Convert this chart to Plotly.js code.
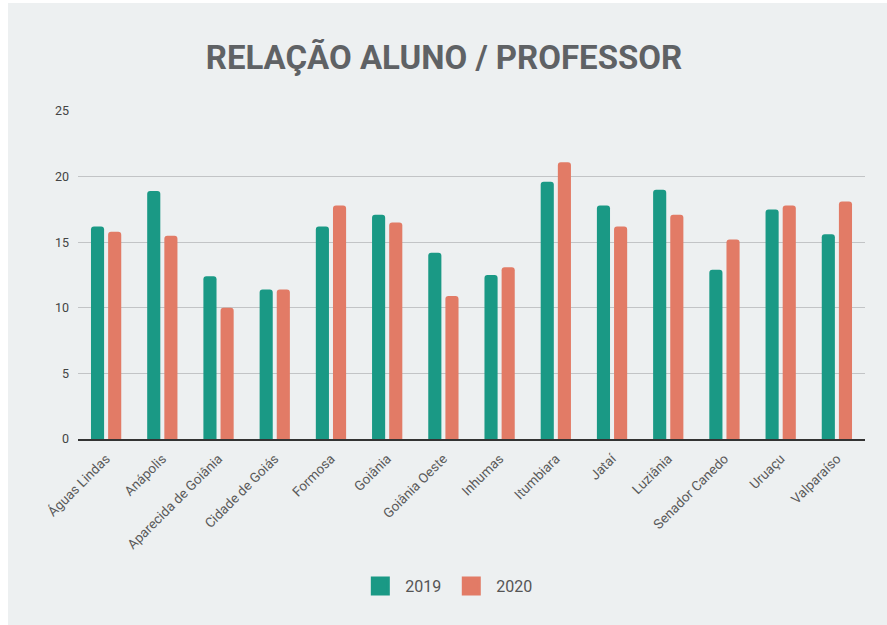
<!DOCTYPE html>
<html>
<head>
<meta charset="utf-8">
<script src="https://cdn.plot.ly/plotly-3.0.1.min.js"></script>
<style>
html, body { margin: 0; padding: 0; background: #ffffff; }
#chart { position: absolute; left: 8px; top: 3px; width: 879px; height: 622px; }
</style>
</head>
<body>
<div id="chart"></div>
<script>
const categories = ["Águas Lindas", "Anápolis", "Aparecida de Goiânia", "Cidade de Goiás", "Formosa", "Goiânia", "Goiânia Oeste", "Inhumas", "Itumbiara", "Jataí", "Luziânia", "Senador Canedo", "Uruaçu", "Valparaíso"];
const values2019 = [16.2, 18.9, 12.4, 11.4, 16.2, 17.1, 14.2, 12.5, 19.6, 17.8, 19.0, 12.9, 17.5, 15.6];
const values2020 = [15.8, 15.5, 10.0, 11.4, 17.8, 16.5, 10.9, 13.1, 21.1, 16.2, 17.1, 15.2, 17.8, 18.1];
const seriesNames = ["2019", "2020"];
const yTicks = [0, 5, 10, 15, 20, 25];
const titleText = "RELAÇÃO ALUNO / PROFESSOR";

const teal = "#1a9985";
const salmon = "#e27b66";

const data = [
  { type: "bar", name: seriesNames[0], x: categories, y: values2019, showlegend: false,
    marker: { color: teal, cornerradius: 3 } },
  { type: "bar", name: seriesNames[1], x: categories, y: values2020, showlegend: false,
    marker: { color: salmon, cornerradius: 3 } },
  // legend entries (no data points)
  { type: "scatter", mode: "markers", name: seriesNames[0], x: [null], y: [null],
    marker: { symbol: "square", size: 16, color: teal, line: { color: teal, width: 3 } } },
  { type: "scatter", mode: "markers", name: seriesNames[1], x: [null], y: [null],
    marker: { symbol: "square", size: 16, color: salmon, line: { color: salmon, width: 3 } } }
];

const layout = {
  width: 879, height: 622,
  paper_bgcolor: "#edf0f1",
  plot_bgcolor: "#edf0f1",
  margin: { l: 70, r: 22, t: 108, b: 186 },
  font: { family: "Roboto, sans-serif", color: "#555555" },
  title: {
    text: titleText,
    font: { family: "Roboto, sans-serif", size: 33, color: "#5f6265", weight: "bold" },
    xref: "container", x: 0.496, xanchor: "center",
    yref: "container", y: 0.913, yanchor: "middle"
  },
  barmode: "group",
  bargap: 0.39,
  bargroupgap: 0.235,
  xaxis: {
    type: "category",
    tickangle: -45,
    tickfont: { family: "Roboto, sans-serif", size: 13.5, color: "#5a5a5a" },
    ticklabelstandoff: 5,
    showgrid: false,
    showline: true, linecolor: "#333333", linewidth: 1.5,
    ticks: "", ticklen: 0,
    fixedrange: true
  },
  yaxis: {
    range: [0, 25],
    tickvals: yTicks,
    ticktext: yTicks.map(String),
    tickfont: { family: "Roboto, sans-serif", size: 12.5, color: "#444444" },
    showgrid: true, gridcolor: "#c2c4c6", gridwidth: 1,
    zeroline: false,
    showline: false,
    ticks: "", ticklabelstandoff: 8,
    fixedrange: true
  },
  showlegend: true,
  legend: {
    orientation: "h",
    xref: "paper", x: 0.468, xanchor: "center",
    yref: "container", y: 0.0627, yanchor: "middle",
    font: { family: "Roboto, sans-serif", size: 16, color: "#555555" },
    itemsizing: "trace",
    itemwidth: 40,
    bgcolor: "rgba(0,0,0,0)"
  }
};

Plotly.newPlot("chart", data, layout, { displayModeBar: false, staticPlot: true });
</script>
</body>
</html>
